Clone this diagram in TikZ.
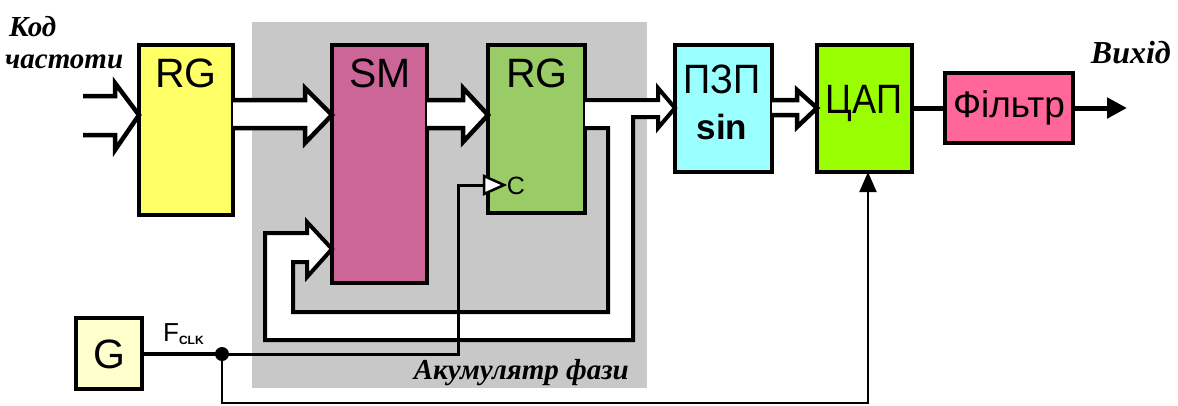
\documentclass[tikz,border=0pt]{standalone}
\usepackage{fontspec}
\setmainfont{Liberation Sans}
\newfontfamily\tnr{Liberation Serif}
\usetikzlibrary{arrows.meta}
\definecolor{cgray}{HTML}{C8C8C8}
\definecolor{cyel}{HTML}{FFFF66}
\definecolor{csm}{HTML}{CC6699}
\definecolor{crg}{HTML}{99CC66}
\definecolor{crom}{HTML}{99FFFF}
\definecolor{cdac}{HTML}{99FF00}
\definecolor{cflt}{HTML}{FF6699}
\definecolor{cgen}{HTML}{FFFFCC}
\begin{document}
\begin{tikzpicture}[x=1pt,y=-1pt,
  blk/.style={draw=black,line width=3.5pt,inner sep=0pt,outer sep=0pt,anchor=north west},
  lbl/.style={font=\fontsize{41}{43}\selectfont,inner sep=0pt},
  ital/.style={font=\tnr\bfseries\itshape\fontsize{29}{31}\selectfont,inner sep=0pt},
  bus/.style={draw=black,fill=white,line width=4.5pt,line join=miter},
  clk/.style={draw=black,line width=3pt}]
\useasboundingbox (0,0) rectangle (1178,405);
% background of the phase accumulator
\fill[cgray] (252,22) rectangle (647,388);
% blocks
\node[blk,fill=cyel,minimum width=94pt,minimum height=170pt] (rg1) at (139,45) {};
\node[blk,fill=csm,minimum width=95pt,minimum height=238pt] (sm) at (332,45) {};
\node[blk,fill=crg,minimum width=97pt,minimum height=168pt] (rg2) at (488,45) {};
\node[blk,fill=crom,minimum width=97pt,minimum height=127pt] (rom) at (675,45) {};
\node[blk,fill=cdac,minimum width=95pt,minimum height=127pt] (dac) at (817,45) {};
\node[blk,fill=cflt,minimum width=128pt,minimum height=70pt] (flt) at (945,73) {};
\node[blk,fill=cgen,minimum width=66pt,minimum height=71pt] (gen) at (76,318) {};
% labels in blocks
\node[lbl] (rg1t) at (186,73) {RG};
\node[lbl] (smt) at (380,73) {SM};
\node[lbl] (rg2t) at (537,73) {RG};
\node[lbl] (romt) at (722,79) {\scalebox{0.92}[1]{ПЗП}};
\node[lbl,font=\bfseries\fontsize{35}{37}\selectfont] (roms) at (722,127) {sin};
\node[lbl] (dact) at (864,103) {\scalebox{0.88}[1]{ЦАП}};
\node[lbl,font=\fontsize{37}{39}\selectfont] (fltt) at (1009,108) {Фільтр};
\node[lbl,font=\fontsize{41}{43}\selectfont] (gent) at (109,354) {G};
\node[lbl,font=\fontsize{25}{27}\selectfont] (ct) at (516,186) {C};
\node[inner sep=0pt,font=\fontsize{26}{28}\selectfont,anchor=base west] (fclk) at (163,341) {F\raisebox{-3pt}{\fontsize{12}{12}\selectfont\bfseries CLK}};
% italic captions
\node[ital,anchor=base west] (kod) at (9,36) {Код};
\node[ital,anchor=base west] (chast) at (5,68) {частоти};
\node[ital,anchor=base east,font=\tnr\bfseries\itshape\fontsize{32}{34}\selectfont] (vyh) at (1171,63) {Вихід};
\node[ital,anchor=base east] (akum) at (629,379) {Акумулятр фази};
% input bus
\draw[bus] (83,96) -- (115,96) -- (115,83) -- (rg1.west |- 0,115) -- (115,150) -- (115,135) -- (83,135);
% RG -> SM bus
\draw[bus] (rg1.east |- 0,100) -- (305,100) -- (305,88) -- (sm.west |- 0,115) -- (305,143) -- (305,128) -- (rg1.east |- 0,128);
% SM -> RG bus
\draw[bus] (sm.east |- 0,100) -- (463,100) -- (463,88) -- (rg2.west |- 0,115) -- (463,142) -- (463,128) -- (sm.east |- 0,128);
% RG -> ROM bus with feedback to SM
\draw[bus,line width=4pt] (rg2.east |- 0,100) -- (658,100) -- (658,88) -- (rom.west |- 0,108) -- (658,128) -- (658,117)
  -- (633,117) -- (633,340) -- (265,340) -- (265,233) -- (307,233) -- (307,222) -- (sm.west |- 0,249)
  -- (307,277) -- (307,262) -- (293,262) -- (293,312) -- (608,312) -- (608,128) -- (rg2.east |- 0,128);
% ROM -> DAC bus
\draw[bus] (rom.east |- 0,100) -- (797,100) -- (797,90) -- (dac.west |- 0,108) -- (797,127) -- (797,115) -- (rom.east |- 0,115);
% DAC -> filter -> output
\coordinate (out) at (1127,108);
\draw[line width=5pt] (dac.east |- flt.west) -- (flt.west);
\draw[line width=5pt,-{Triangle[length=20pt,width=20pt]}] (flt.east) -- (out);
% clock
\coordinate (dot) at (222,354);
\coordinate (cin) at (484,185);
\draw[line width=4pt] (gen.east |- dot) -- (dot);
\draw[clk] (dot) -- (458,354) -- (458,185) -- (cin);
\draw[line width=2.5pt,fill=white,line join=miter] (484,176) -- (504,185) -- (484,194) -- cycle;
\draw[line width=2pt,-{Triangle[length=20pt,width=17pt]}] (dot) -- (222,403) -- (868,403) -- (dac.south -| 868,0);
\fill (dot) circle[radius=7pt];
\end{tikzpicture}
\end{document}
